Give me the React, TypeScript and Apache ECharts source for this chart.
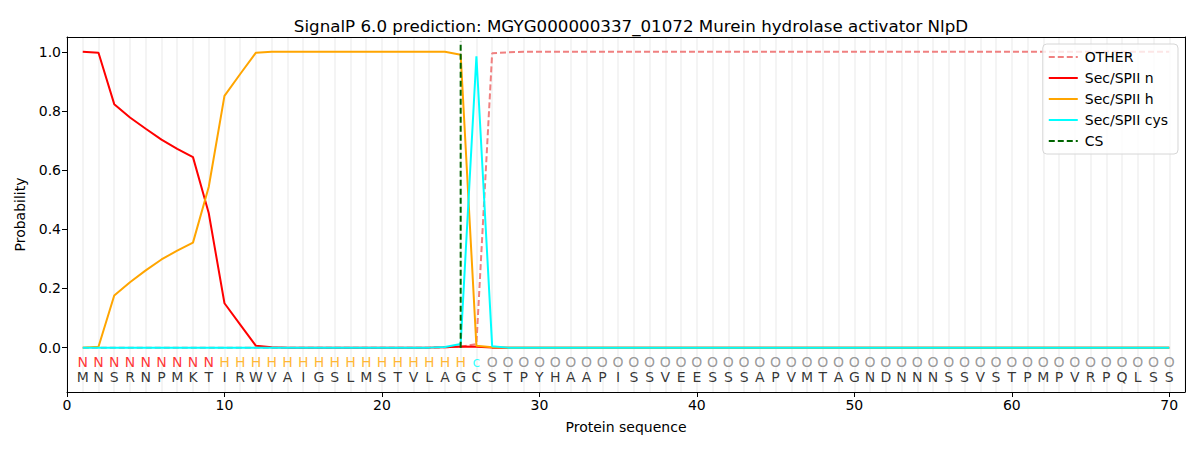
import React, { useEffect, useRef } from "react";
import * as echarts from "echarts";

const TITLE = "SignalP 6.0 prediction: MGYG000000337_01072 Murein hydrolase activator NlpD";
const SEQUENCE = "MNSRNPMKTIRWVAIGSLMSTVLAGCSTPYHAAPISSVEESSSAPVMTAGNDNNNSSVSTPMPVRPQLSS".split("");
const ANNOTATION = ("NNNNNNNNN" + "HHHHHHHHHHHHHHHH" + "c" + "O".repeat(44)).split("");

const OTHER = [
  0, 0, 0, 0, 0, 0, 0, 0, 0, 0, 0, 0, 0, 0, 0, 0, 0, 0, 0, 0, 0, 0, 0, 0.001, 0.003, 0.012, 0.995, 0.998,
  1, 1, 1, 1, 1, 1, 1, 1, 1, 1, 1, 1, 1, 1, 1, 1, 1, 1, 1, 1, 1, 1, 1, 1, 1, 1, 1, 1, 1, 1, 1, 1, 1, 1, 1, 1, 1, 1, 1, 1, 1, 1,
];
const SEC_N = [
  1.0, 0.997, 0.823, 0.778, 0.74, 0.703, 0.672, 0.644, 0.455, 0.15, 0.078, 0.006, 0.001, 0, 0, 0, 0, 0, 0, 0, 0, 0, 0,
  0.001, 0.004, 0.003, 0, 0, 0, 0, 0, 0, 0, 0, 0, 0, 0, 0, 0, 0, 0, 0, 0, 0, 0, 0, 0, 0, 0, 0, 0, 0, 0, 0, 0, 0, 0, 0, 0,
  0, 0, 0, 0, 0, 0, 0, 0, 0, 0, 0,
];
const SEC_H = [
  0, 0.003, 0.176, 0.221, 0.261, 0.298, 0.328, 0.355, 0.543, 0.851, 0.925, 0.997, 1, 1, 1, 1, 1, 1, 1, 1, 1, 1, 1, 1,
  0.99, 0.006, 0.001, 0, 0, 0, 0, 0, 0, 0, 0, 0, 0, 0, 0, 0, 0, 0, 0, 0, 0, 0, 0, 0, 0, 0, 0, 0, 0, 0, 0, 0, 0, 0, 0, 0,
  0, 0, 0, 0, 0, 0, 0, 0, 0, 0,
];
const SEC_CYS = [
  0, 0, 0, 0, 0, 0, 0, 0, 0, 0, 0, 0, 0, 0, 0, 0, 0, 0, 0, 0, 0, 0, 0, 0.002, 0.012, 0.985, 0.005, 0, 0, 0, 0, 0, 0, 0,
  0, 0, 0, 0, 0, 0, 0, 0, 0, 0, 0, 0, 0, 0, 0, 0, 0, 0, 0, 0, 0, 0, 0, 0, 0, 0, 0, 0, 0, 0, 0, 0, 0, 0, 0, 0,
];
const CS_POS = 25;
const CS_TOP = 1.035;
const Y_TICKS = [0, 0.2, 0.4, 0.6, 0.8, 1.0];
const X_TICKS = [0, 10, 20, 30, 40, 50, 60, 70];

const ANN_COLORS: Record<string, string> = { N: "#ff0000", H: "#ffa500", c: "#00ffff", O: "#808080" };
const FONT = "DejaVu Sans";

export default function App() {
  const ref = useRef<HTMLDivElement>(null);
  useEffect(() => {
    if (!ref.current) return;
    const chart = echarts.init(ref.current, undefined, { renderer: "svg" });
    const pts = (arr: number[]) => arr.map((v, i) => [i + 1, v]);
    const lineSeries = (name: string, data: number[], color: string, dashed = false) => ({
      name,
      type: "line",
      data: pts(data),
      symbol: "none",
      xAxisIndex: 0,
      yAxisIndex: 0,
      lineStyle: { color, width: 2, type: dashed ? [6, 3] : "solid" },
      itemStyle: { color },
      z: 3,
    });
    const letterSeries = (letters: string[], y: number, colorOf: (s: string) => string) => ({
      type: "scatter",
      symbolSize: 0,
      silent: true,
      data: letters.map((s, i) => ({
        value: [i + 1, y],
        label: { show: true, formatter: s, color: colorOf(s) },
      })),
      label: { show: true, position: "inside", fontSize: 14, fontFamily: FONT },
      z: 4,
    });
    const frameAxis = {
      type: "value",
      min: 0,
      max: 1,
      axisLine: { show: true, onZero: false, lineStyle: { color: "#000", width: 1 } },
      axisTick: { show: false },
      axisLabel: { show: false },
      splitLine: { show: false },
    };
    chart.setOption({
      animation: false,
      textStyle: { fontFamily: FONT },
      title: {
        text: TITLE,
        left: 626,
        textAlign: "center",
        top: 12,
        textStyle: { fontFamily: FONT, fontSize: 16.7, fontWeight: "normal", color: "#000" },
      },
      grid: { left: 67, right: 15, top: 37, bottom: 58 },
      legend: {
        orient: "vertical",
        right: 22,
        top: 44,
        itemWidth: 29,
        itemHeight: 12,
        itemGap: 7,
        padding: [6, 10, 6, 5],
        borderColor: "#d6d6d6",
        borderWidth: 1,
        borderRadius: 4,
        backgroundColor: "rgba(255,255,255,0.8)",
        itemStyle: { opacity: 0 },
        textStyle: { fontFamily: FONT, fontSize: 14, color: "#000", padding: [0, 0, 0, 2] },
        data: ["OTHER", "Sec/SPII n", "Sec/SPII h", "Sec/SPII cys", "CS"],
      },
      xAxis: [
        {
          type: "value",
          min: 0,
          max: 71,
          interval: 10,
          name: "Protein sequence",
          nameLocation: "middle",
          nameGap: 28,
          nameTextStyle: { fontFamily: FONT, fontSize: 14, color: "#000" },
          axisLine: { show: true, onZero: false, lineStyle: { color: "#000", width: 1 } },
          axisTick: { show: true, length: 5, lineStyle: { color: "#000" }, customValues: X_TICKS },
          axisLabel: { color: "#000", fontSize: 14, fontFamily: FONT, margin: 6, customValues: X_TICKS },
          splitLine: { show: false },
        },
        {
          type: "value",
          min: 0,
          max: 71,
          interval: 1,
          position: "bottom",
          axisLine: { show: false },
          axisTick: { show: false },
          axisLabel: { show: false },
          splitLine: { show: true, lineStyle: { color: "#f0f0f0", width: 1.5 } },
        },
        { ...frameAxis, position: "top" },
      ],
      yAxis: [
        {
          type: "value",
          min: -0.15,
          max: 1.05,
          name: "Probability",
          nameLocation: "middle",
          nameGap: 40,
          nameTextStyle: { fontFamily: FONT, fontSize: 14, color: "#000" },
          axisLine: { show: true, onZero: false, lineStyle: { color: "#000", width: 1 } },
          axisTick: { show: true, length: 5, lineStyle: { color: "#000" }, customValues: Y_TICKS },
          axisLabel: {
            color: "#000",
            fontSize: 14,
            fontFamily: FONT,
            margin: 6,
            customValues: Y_TICKS,
            formatter: (v: number) => v.toFixed(1),
          },
          splitLine: { show: false },
        },
        { ...frameAxis, position: "right" },
      ],
      series: [
        lineSeries("OTHER", OTHER, "#f08080", true),
        lineSeries("Sec/SPII n", SEC_N, "#ff0000"),
        lineSeries("Sec/SPII h", SEC_H, "#ffa500"),
        lineSeries("Sec/SPII cys", SEC_CYS, "#00ffff"),
        {
          name: "CS",
          type: "line",
          data: [
            [CS_POS, 0],
            [CS_POS, CS_TOP],
          ],
          symbol: "none",
          lineStyle: { color: "#006400", width: 2, type: [6, 3] },
          itemStyle: { color: "#006400" },
          z: 5,
        },
        letterSeries(ANNOTATION, -0.047, (s) => ANN_COLORS[s] || "#000"),
        letterSeries(SEQUENCE, -0.1, () => "#000"),
      ],
    });
    return () => chart.dispose();
  }, []);
  return <div ref={ref} style={{ position: "fixed", left: 0, top: 0, width: 1200, height: 450, background: "#fff" }} />;
}
